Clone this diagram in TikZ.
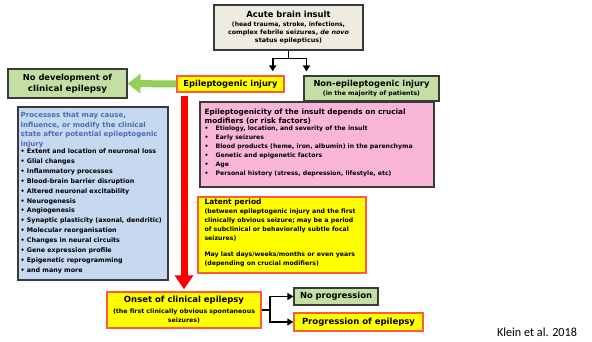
\documentclass[tikz,border=0pt]{standalone}
\usepackage{graphicx}
\usepackage{fontspec}
\setmainfont{DejaVu Sans}
\newfontfamily\kleinfont{Carlito}
\usetikzlibrary{arrows.meta}
\definecolor{beige}{HTML}{EEECE1}
\definecolor{lgreen}{HTML}{C4DFA4}
\definecolor{garrow}{HTML}{94CF5C}
\definecolor{lblue}{HTML}{C6D9F1}
\definecolor{lpink}{HTML}{FAB6D6}
\definecolor{ybox}{HTML}{FFFF00}
\definecolor{yborder}{HTML}{FF5A3A}
\definecolor{darkb}{HTML}{3A3A3A}
\definecolor{titleblue}{HTML}{4A6DB3}
\definecolor{redar}{HTML}{FF0000}
\newcommand{\fs}[2]{\fontsize{#1}{#2}\selectfont}
\newcommand{\bl}{\makebox[11pt][l]{•}}
% one line fitted to a given width (pt), height kept
\newcommand{\hw}[2]{\resizebox{#1pt}{\height}{#2}}
% a block scaled horizontally so that a sample line gets a given width
\newlength{\natw}
\newcommand{\hblock}[3]{\settowidth{\natw}{#2}\pgfmathsetmacro{\sxf}{#1/\natw}\scalebox{\sxf}[1]{#3}}
\begin{document}
\begin{tikzpicture}[x=1pt,y=-1pt,
  box/.style={draw=darkb, line width=1.1pt, inner sep=0pt, font=\bfseries},
  beigebox/.style={box, fill=beige},
  greenbox/.style={box, fill=lgreen},
  bluebox/.style={box, fill=lblue},
  pinkbox/.style={box, fill=lpink},
  yellowbox/.style={draw=yborder, line width=1.4pt, fill=ybox, inner sep=0pt, font=\bfseries},
  txt/.style={anchor=north west, inner sep=0pt, font=\bfseries},
  blk/.style={line width=1.8pt, black},
  blkarrow/.style={blk, -{Triangle[width=7pt,length=6pt]}},
  redarrow/.style={line width=7pt, redar, -{Triangle[width=18pt,length=14pt]}},
  greenarrow/.style={line width=7pt, garrow, -{Triangle[width=19pt,length=13pt]}}
]
\useasboundingbox (0,0) rectangle (592,341);

% boxes
\node[beigebox, minimum width=149pt, minimum height=45pt] (acute) at (288.5,27.5)
  {\parbox{147pt}{\centering\fs{8.5}{9}\hw{84}{Acute brain insult}\par\vspace{1pt}
   \fs{6.1}{8}\hw{113}{(head trauma, stroke, infections,}\\
   \hw{121}{complex febrile seizures, \textit{de novo}}\\
   \hw{67}{status epilepticus)}\par}};

\node[yellowbox, minimum width=107pt, minimum height=16pt] (epi) at (230.5,84)
  {\fs{8.3}{10}\hw{94}{Epileptogenic injury}};

\node[greenbox, minimum width=135pt, minimum height=25pt] (nonepi) at (371.5,88.5)
  {\parbox{133pt}{\centering\fs{8.3}{9}\hw{116}{Non-epileptogenic injury}\par
   \fs{6.1}{10}\hw{97}{(in the majority of patients)}\par}};

\node[greenbox, minimum width=119pt, minimum height=29pt] (nodev) at (67.5,83.5)
  {\parbox{117pt}{\centering\fs{8.3}{11}\hw{89}{No development of}\\ \hw{79}{clinical epilepsy}\par}};

\node[bluebox, minimum width=150pt, minimum height=173pt] (proc) at (93,193.5) {};
\node[txt] (proctxt) at ([xshift=3pt,yshift=-6pt]proc.north west)
  {\parbox[t]{147pt}{\raggedright\fs{6.35}{9.9}%
   \hblock{137}{\fs{7}{9.4}state after potential epileptogenic}{\parbox[t]{220pt}{\raggedright\color{titleblue}\fs{7}{9.4}%
   Processes that may cause,\\ influence, or modify the clinical\\
   state after potential epileptogenic\\ injury}}\par
   \hblock{141}{\fs{6.35}{9.9}• Synaptic plasticity (axonal, dendritic)}{\parbox[t]{220pt}{\raggedright\fs{6.35}{9.9}%
   • Extent and location of neuronal loss\\
   • Glial changes\\
   • Inflammatory processes\\
   • Blood-brain barrier disruption\\
   • Altered neuronal excitability\\
   • Neurogenesis\\
   • Angiogenesis\\
   • Synaptic plasticity (axonal, dendritic)\\
   • Molecular reorganisation\\
   • Changes in neural circuits\\
   • Gene expression profile\\
   • Epigenetic reprogramming\\
   • and many more}}\par}};

\node[pinkbox, minimum width=234pt, minimum height=85pt] (pink) at (317,144.5) {};
\node[txt] (pinktxt) at ([xshift=5pt,yshift=-7pt]pink.north west)
  {\parbox[t]{226pt}{\raggedright\fs{6.15}{9}%
   \hblock{201}{\fs{7.35}{9.6}Epileptogenicity of the insult depends on crucial}{\parbox[t]{300pt}{\raggedright\fs{7.35}{9.6}%
   Epileptogenicity of the insult depends on crucial\\
   modifiers (or risk factors)}}\par
   \hblock{208}{\fs{6.15}{9}\bl Blood products (heme, iron, albumin) in the parenchyma}{\parbox[t]{300pt}{\raggedright\fs{6.15}{9}%
   \bl Etiology, location, and severity of the insult\\
   \bl Early seizures\\
   \bl Blood products (heme, iron, albumin) in the parenchyma\\
   \bl Genetic and epigenetic factors\\
   \bl Age\\
   \bl Personal history (stress, depression, lifestyle, etc)}}\par}};

\node[yellowbox, minimum width=168pt, minimum height=76pt] (latent) at (282,235) {};
\node[txt] (latenttxt) at ([xshift=7pt,yshift=-2.5pt]latent.north west)
  {\parbox[t]{160pt}{\raggedright\fs{7.5}{9}\hw{57}{Latent period}\par
   \fs{6.2}{9}%
   \hblock{151}{(between epileptogenic injury and the first}{\parbox[t]{240pt}{\raggedright\fs{6.2}{9}%
   (between epileptogenic injury and the first\\
   clinically obvious seizure; may be a period\\
   of subclinical or behaviorally subtle focal\\
   seizures)\\[7pt]
   May last days/weeks/months or even years\\
   (depending on crucial modifiers)}}\par}};

\node[yellowbox, minimum width=154pt, minimum height=36pt] (onset) at (184,310)
  {\parbox{152pt}{\centering\fs{8.5}{10}\hw{120}{Onset of clinical epilepsy}\par\vspace{2pt}
   \fs{6.15}{9}\hw{142}{(the first clinically obvious spontaneous}\\ \hw{32}{seizures)}\par}};

\node[greenbox, minimum width=84pt, minimum height=17pt] (noprog) at (336,296.5)
  {\fs{8.4}{10}\hw{72}{No progression}};

\node[yellowbox, minimum width=129pt, minimum height=18pt] (prog) at (358.5,322)
  {\fs{8.5}{10}\hw{113}{Progression of epilepsy}};

\node[inner sep=0pt] (klein) at (537,332)
  {\kleinfont\fs{12.4}{14}\hw{80}{Klein et al. 2018}};

% connectors
\coordinate (split) at ([yshift=-8pt]acute.south);
\draw[blk] (acute.south) -- (split);
\draw[blkarrow] ([xshift=1pt]split) -| ([xshift=-12pt,yshift=4pt]epi.north east);
\draw[blkarrow] ([xshift=-1pt]split) -| ([xshift=3pt,yshift=4pt]nonepi.north west);

\draw[greenarrow] (epi.west) -- (nodev.east);
\draw[redarrow] ([yshift=-3pt]onset.north |- epi.south) -- ([yshift=2pt]onset.north);

\coordinate (fork) at ([xshift=8pt]onset.east);
\draw[blk] (onset.east) -- (fork);
\draw[blkarrow] ([yshift=-1pt]fork) |- (noprog.west);
\draw[blkarrow] ([yshift=1pt]fork) |- (prog.west);
\end{tikzpicture}
\end{document}
